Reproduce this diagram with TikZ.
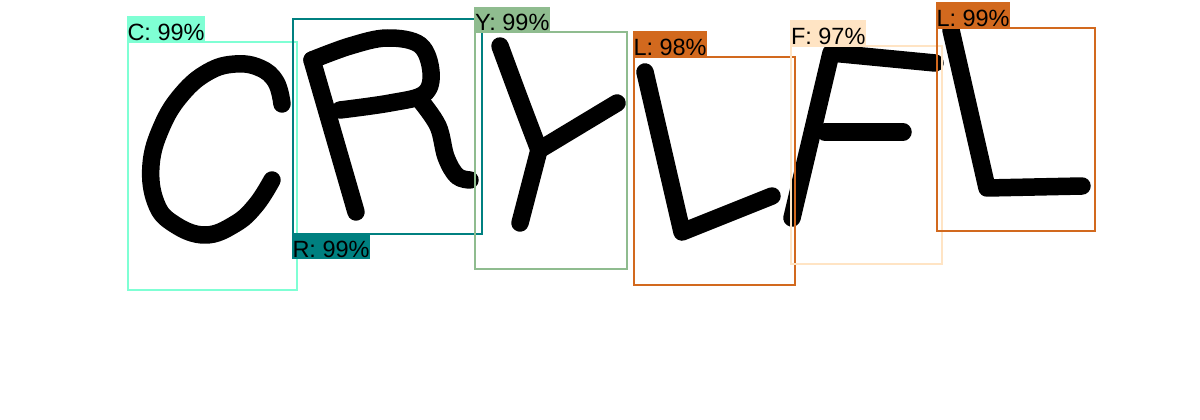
\documentclass[tikz,border=0pt]{standalone}
\usepackage{fontspec}
\setmainfont{Liberation Sans}
\definecolor{aquamarine}{HTML}{7FFFD4}
\definecolor{tealc}{HTML}{008080}
\definecolor{seagreen}{HTML}{8FBC8F}
\definecolor{chocolate}{HTML}{D2691E}
\definecolor{bisque}{HTML}{FFE4C4}
\begin{document}
\begin{tikzpicture}[x=1pt,y=-1pt,
    ink/.style={line width=17.5pt, line cap=round, line join=round},
    detbox/.style={line width=2pt},
    tag/.style={inner xsep=0.8pt, inner ysep=0pt, text height=24pt, text depth=1.7pt,
        font=\fontsize{23.5}{27}\selectfont}]
                \useasboundingbox[fill=white] (0,0) rectangle (1200,420);
                % letters
                \draw[ink] plot[smooth, tension=0.7] coordinates {(282,104) (276,82) (260,68) (235,64) (208,72) (182,94) (162,126) (151,165) (156,203) (174,224) (205,235) (235,224) (256,205) (272,180)};
                \draw[ink] (356,212) -- (312,60);
                \draw[ink] plot[smooth, tension=0.6] coordinates {(312,60) (350,46) (387,38) (420,45) (431,72) (424,94) (390,103) (340,110)};
                \draw[ink] plot[smooth, tension=0.6] coordinates {(420,100) (438,126) (446,157) (457,176) (470,180)};
                \draw[ink] plot[smooth, tension=0.6] coordinates {(500,46) (520,100) (539,150)};
                \draw[ink] (617,103) -- (539,150) -- (520,223);
                \draw[ink] (645,72) -- (682,232) -- (772,196);
                \draw[ink] (792,218) -- (831,53) -- (935,63);
                \draw[ink] (825,132) -- (903,132);
                \draw[ink] (951,30) -- (987,188) -- (1082,186);
                % boxes
                \draw[detbox, aquamarine] (127.5,42) rectangle (297,290);
                \draw[detbox, tealc] (292.5,19.5) rectangle (482,233.5);
                \draw[detbox, seagreen] (475,32.5) rectangle (627,269);
                \draw[detbox, chocolate] (633.5,57) rectangle (795,284.5);
                \draw[detbox, bisque] (791,46) rectangle (942,264);
                \draw[detbox, chocolate] (936.5,28) rectangle (1095,230.5);
                % labels
                \node[tag, fill=aquamarine, anchor=south west] (tagC) at (126.5,42) {C: 99\%};
                \node[tag, fill=tealc, anchor=north west] (tagR) at (291.5,233) {R: 99\%};
                \node[tag, fill=seagreen, anchor=south west] (tagY) at (474,32.5) {Y: 99\%};
                \node[tag, fill=chocolate, anchor=south west] (tagL) at (632.5,57) {L: 98\%};
                \node[tag, fill=bisque, anchor=south west] (tagF) at (790,46) {F: 97\%};
                \node[tag, fill=chocolate, anchor=south west] (tagLL) at (935.5,28) {L: 99\%};
            \end{tikzpicture}
\end{document}
